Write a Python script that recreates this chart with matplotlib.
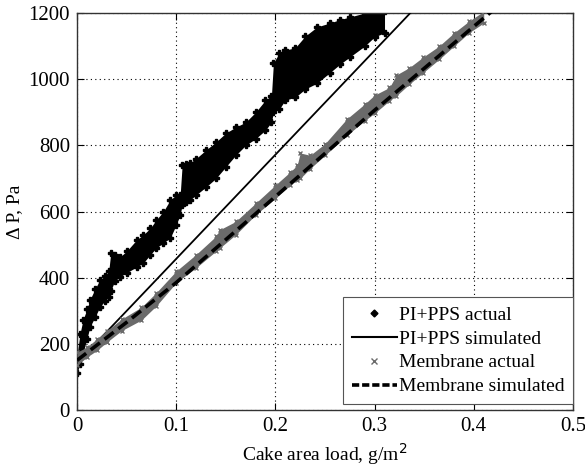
import matplotlib
matplotlib.use("Agg")
import matplotlib.pyplot as plt
from matplotlib.lines import Line2D

# ---- data ----
# PI+PPS actual: band of measured points (x, lower edge, upper edge)
pi_x  = [0.000, 0.003, 0.006, 0.010, 0.013, 0.018, 0.023, 0.028, 0.032, 0.034, 0.038,
         0.043, 0.050, 0.060, 0.067, 0.074, 0.080, 0.087, 0.094, 0.100, 0.104, 0.106,
         0.110, 0.114, 0.120, 0.130, 0.140, 0.150, 0.160, 0.170, 0.180, 0.190, 0.196,
         0.198, 0.204, 0.210, 0.220, 0.230, 0.242, 0.255, 0.265, 0.275, 0.290, 0.300, 0.310]
pi_lo = [112, 140, 172, 215, 251, 280, 311, 330, 342, 360, 390,
         402, 415, 432, 445, 470, 490, 505, 520, 560, 590, 620,
         630, 635, 650, 674, 700, 735, 770, 800, 820, 846, 870,
         900, 910, 937, 945, 970, 988, 1020, 1045, 1067, 1100, 1128, 1140]
pi_hi = [165, 230, 272, 305, 333, 365, 393, 405, 420, 474, 470,
         462, 480, 514, 530, 550, 575, 600, 635, 650, 650, 740,
         745, 747, 760, 786, 810, 837, 855, 870, 900, 937, 950,
         1049, 1080, 1088, 1095, 1130, 1158, 1170, 1180, 1188, 1200, 1203, 1205]

# PI+PPS simulated (straight line)
pisim_x = [0.0, 0.336]
pisim_y = [142, 1200]

# Membrane actual: band (x, lower edge, upper edge)
mem_x  = [0.000, 0.010, 0.020, 0.030, 0.045, 0.065, 0.080, 0.100, 0.120, 0.140, 0.144,
          0.160, 0.180, 0.200, 0.215, 0.222, 0.225, 0.235, 0.250, 0.272, 0.290, 0.300,
          0.315, 0.322, 0.335, 0.349, 0.365, 0.380, 0.395, 0.410]
mem_lo = [135, 160, 180, 205, 240, 272, 315, 385, 430, 480, 490,
          530, 590, 640, 680, 695, 700, 730, 770, 830, 875, 897,
          935, 950, 985, 1020, 1060, 1100, 1140, 1170]
mem_hi = [175, 190, 215, 240, 275, 311, 355, 420, 470, 525, 545,
          570, 625, 680, 720, 740, 777, 770, 805, 880, 925, 952,
          975, 1013, 1035, 1067, 1100, 1140, 1175, 1205]

# Membrane simulated
memsim_x = [0.0, 0.05, 0.10, 0.20, 0.30, 0.42]
memsim_y = [150, 265, 385, 645, 906, 1210]

labels = ["PI+PPS actual", "PI+PPS simulated", "Membrane actual", "Membrane simulated"]
xticks = [0, 0.1, 0.2, 0.3, 0.4, 0.5]
xticklabels = ['0', '0.1', '0.2', '0.3', '0.4', '0.5']
yticks = [0, 200, 400, 600, 800, 1000, 1200]

# ---- drawing ----
plt.rcParams['font.family'] = ['Liberation Serif', 'DejaVu Serif']
fig = plt.figure(figsize=(5.85, 4.68), dpi=100)
ax = fig.add_axes([0.1316, 0.1239, 0.8479, 0.8483])

gray = '#6a6a6a'

# PI+PPS actual
ax.fill_between(pi_x, pi_lo, pi_hi, color='black', lw=0, zorder=2)
ax.plot(pi_x, pi_lo, linestyle='none', marker='P', ms=5, color='black', zorder=2)
ax.plot(pi_x, pi_hi, linestyle='none', marker='P', ms=5, color='black', zorder=2)

# PI+PPS simulated
ax.plot(pisim_x, pisim_y, color='black', lw=1.3, zorder=3)

# Membrane actual
ax.fill_between(mem_x, mem_lo, mem_hi, color=gray, lw=0, zorder=4)
ax.plot(mem_x, mem_lo, linestyle='none', marker='x', ms=3, mew=1.0, color=gray, zorder=4)
ax.plot(mem_x, mem_hi, linestyle='none', marker='x', ms=3, mew=1.0, color=gray, zorder=4)

# Membrane simulated
ax.plot(memsim_x, memsim_y, color='black', lw=2.6, dashes=(3.2, 1.6), zorder=5)

ax.set_xlim(0, 0.5)
ax.set_ylim(0, 1200)
ax.set_xticks(xticks)
ax.set_xticklabels(xticklabels)
ax.set_yticks(yticks)
ax.grid(True, linestyle=(0, (1, 3)), color='black', lw=0.8)
ax.tick_params(direction='in', top=True, right=True, length=5, labelsize=15, pad=5)
for s in ax.spines.values():
    s.set_color('#333333')
    s.set_linewidth(1.0)

ax.set_xlabel("Cake area load, g/m$^2$", fontsize=14, labelpad=4)
ax.set_ylabel("Δ P, Pa", fontsize=14)

handles = [
    Line2D([], [], linestyle='none', marker='D', ms=3.5, color='black'),
    Line2D([], [], color='black', lw=1.5),
    Line2D([], [], linestyle='none', marker='x', ms=4, mew=1, color=gray),
    Line2D([], [], color='black', lw=2.6, dashes=(2.0, 0.8)),
]
leg = ax.legend(handles, labels, loc='lower right', bbox_to_anchor=(1.0, 0.015),
                fontsize=14, frameon=True,
                fancybox=False, edgecolor='#555555', framealpha=1,
                borderaxespad=0.0, handlelength=2.3, handletextpad=0.1,
                labelspacing=0.32, borderpad=0.45)
leg.get_frame().set_linewidth(0.8)
leg.set_zorder(10)

fig.savefig("out.png", dpi=100)
